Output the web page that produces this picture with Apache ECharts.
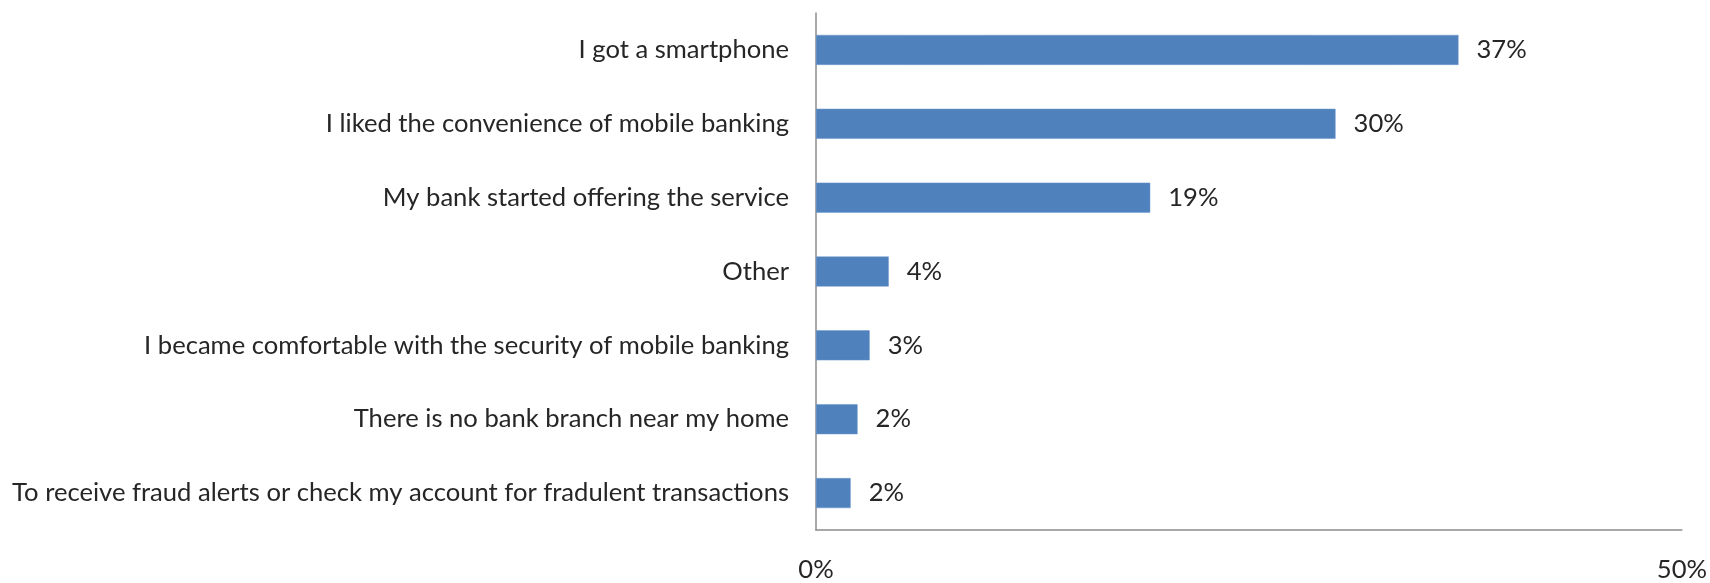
<!DOCTYPE html>
<html>
<head>
<meta charset="utf-8">
<style>
  html, body { margin: 0; padding: 0; background: #ffffff; }
  #chart { width: 1710px; height: 583px; }
</style>
<script src="https://cdn.jsdelivr.net/npm/echarts@6/dist/echarts.min.js"></script>
</head>
<body>
<div id="chart"></div>
<script>
// Reasons for starting to use mobile banking (share of respondents, %)
const categories = [
  'I got a smartphone',
  'I liked the convenience of mobile banking',
  'My bank started offering the service',
  'Other',
  'I became comfortable with the security of mobile banking',
  'There is no bank branch near my home',
  'To receive fraud alerts or check my account for fradulent transactions'
];
const shares = [37.1, 30.0, 19.3, 4.2, 3.1, 2.4, 2.0];
const axisMin = 0;
const axisMax = 50;
const axisStep = 50;

const chart = echarts.init(document.getElementById('chart'), null, { renderer: 'canvas' });
const fontFamily = 'Lato, "Open Sans", sans-serif';
const fontSize = 25.6;

chart.setOption({
  animation: false,
  grid: { left: 816, right: 26, top: 13, bottom: 47, containLabel: false },
  xAxis: {
    type: 'value',
    min: axisMin,
    max: axisMax,
    interval: axisStep,
    axisLine: { show: true, lineStyle: { color: '#8c8c8c', width: 1.5 } },
    axisTick: { show: false },
    splitLine: { show: false },
    axisLabel: {
      formatter: '{value}%',
      margin: 27,
      color: '#262626',
      fontFamily: fontFamily,
      fontSize: fontSize
    }
  },
  yAxis: {
    type: 'category',
    data: categories,
    inverse: true,
    axisLine: { show: true, lineStyle: { color: '#8c8c8c', width: 1.5 } },
    axisTick: { show: false },
    axisLabel: {
      margin: 27,
      color: '#262626',
      fontFamily: fontFamily,
      fontSize: fontSize
    }
  },
  series: [{
    type: 'bar',
    data: shares,
    barWidth: 30,
    itemStyle: { color: '#4f81bd', borderColor: '#6b96cb', borderWidth: 0.5 },
    label: {
      show: true,
      position: 'right',
      distance: 18,
      formatter: p => Math.round(p.value) + '%',
      color: '#262626',
      fontFamily: fontFamily,
      fontSize: fontSize
    }
  }]
});
</script>
</body>
</html>
